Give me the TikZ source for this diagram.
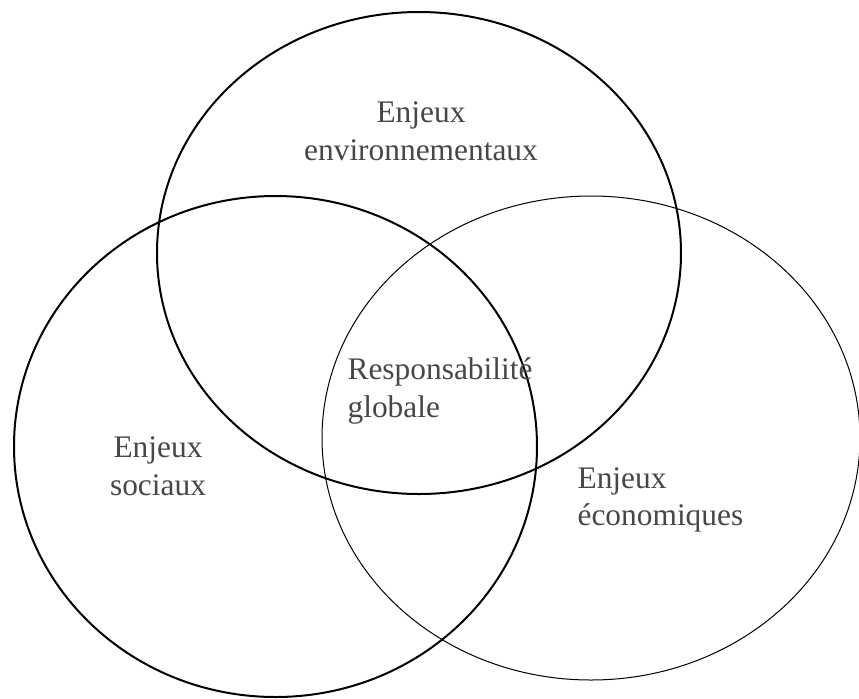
\documentclass[tikz,border=0pt]{standalone}
\usepackage{fontspec}
\setmainfont{Liberation Serif}
\usepackage{tikz}
\usetikzlibrary{shapes.geometric,positioning}
\colorlet{txt}{black!72}

\begin{document}
\begin{tikzpicture}[x=0.5pt, y=-0.5pt, semithick]
\tikzstyle{enjeu}=[draw=black, ellipse, inner sep=0pt, line width=1pt]
\tikzstyle{label}=[text=txt, inner sep=0pt, font=\fontsize{15.7}{18.8}\selectfont]
\useasboundingbox (0,0) rectangle (859,698);
% the three circles
\node[enjeu, minimum width=262pt, minimum height=241pt]   (envir)  at (419,253)     {};
\node[enjeu, minimum width=261.5pt, minimum height=250.5pt] (social) at (275.5,446.5) {};
\node[enjeu, line width=0.5pt, minimum width=269pt, minimum height=242pt] (eco) at (591,438) {};
% texts
\node[label, align=center]            (tenvir)  at (421,131) {Enjeux\\environnementaux};
\node[label, align=left, anchor=west] (tglobal) at (347,391) {Responsabilité\\globale};
\node[label, align=center]            (tsocial) at (158,466) {Enjeux\\sociaux};
\node[label, align=left, anchor=west] (teco)    at (577,500) {Enjeux\\économiques};
\end{tikzpicture}
\end{document}
